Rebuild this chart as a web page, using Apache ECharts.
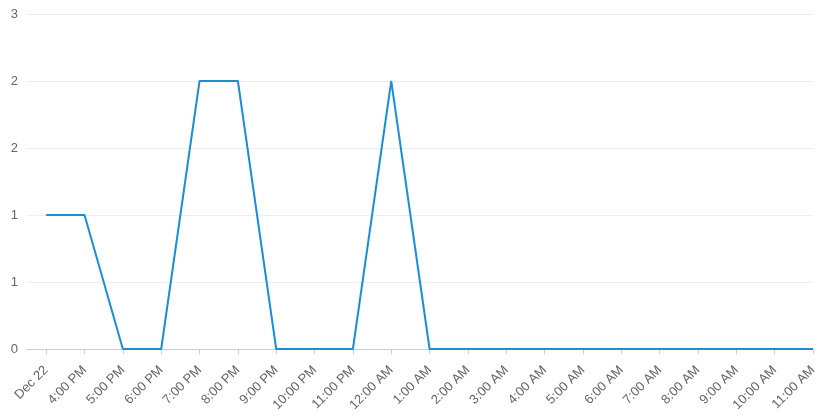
<!DOCTYPE html>
<html><head><meta charset="utf-8">
<script src="https://cdn.jsdelivr.net/npm/echarts@6/dist/echarts.min.js"></script>
<style>html,body{margin:0;padding:0;background:#fff}#c{width:825px;height:420px}</style>
</head><body><div id="c"></div>
<script>
const categories = ["Dec 22","4:00 PM","5:00 PM","6:00 PM","7:00 PM","8:00 PM","9:00 PM","10:00 PM","11:00 PM","12:00 AM","1:00 AM","2:00 AM","3:00 AM","4:00 AM","5:00 AM","6:00 AM","7:00 AM","8:00 AM","9:00 AM","10:00 AM","11:00 AM"];
const values = [1,1,0,0,2,2,0,0,0,2,0,0,0,0,0,0,0,0,0,0,0];
const yTicks = [0,0.5,1,1.5,2,2.5];
const idx = categories.map((_, i) => i);
const chart = echarts.init(document.getElementById('c'));
chart.setOption({
  animation:false,
  textStyle:{fontFamily:'Liberation Sans, Arial, sans-serif'},
  grid:{left:27,right:12,top:14,bottom:71,containLabel:false},
  xAxis:{type:'value',min:-0.5,max:20,
    axisLine:{show:true,lineStyle:{color:'#ccc'}},
    axisTick:{show:true,customValues:idx,length:5,lineStyle:{color:'#ccc'}},
    axisLabel:{customValues:idx,rotate:45,margin:19,color:'#666',fontSize:13,formatter:v=>categories[Math.round(v)]},
    splitLine:{show:false}},
  yAxis:{type:'value',min:0,max:2.5,interval:0.5,
    axisLine:{show:false},axisTick:{show:false},
    axisLabel:{color:'#666',fontSize:13,margin:9,formatter:v=>String(Math.round(v))},
    splitLine:{lineStyle:{color:'#eee'}}},
  series:[{type:'line',data:idx.map(i=>[i,values[i]]),showSymbol:false,
    lineStyle:{color:'#1a8fd6',width:2},itemStyle:{color:'#1a8fd6'}}]
});
</script></body></html>
